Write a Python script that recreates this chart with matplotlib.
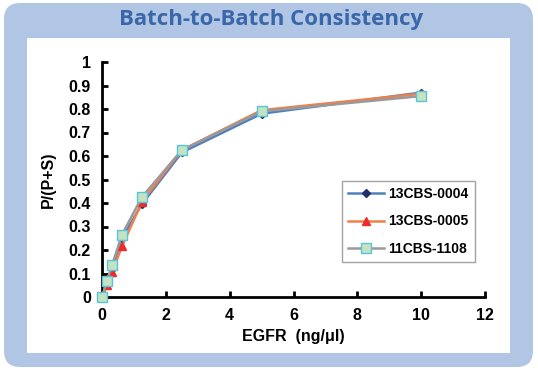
import matplotlib
matplotlib.use("Agg")
import matplotlib.pyplot as plt
from matplotlib.patches import FancyBboxPatch, Rectangle

# EGFR concentration (ng/ul)
egfr = [0, 0.156, 0.3125, 0.625, 1.25, 2.5, 5, 10]

# P/(P+S) per batch
lot_0004 = [0, 0.05, 0.12, 0.25, 0.395, 0.615, 0.78, 0.87]
lot_0005 = [0, 0.05, 0.105, 0.215, 0.405, 0.625, 0.795, 0.865]
lot_1108 = [0, 0.07, 0.135, 0.265, 0.425, 0.625, 0.79, 0.855]

labels = ["13CBS-0004", "13CBS-0005", "11CBS-1108"]
x_ticks = [0, 2, 4, 6, 8, 10, 12]
y_ticks = [0, 0.1, 0.2, 0.3, 0.4, 0.5, 0.6, 0.7, 0.8, 0.9, 1]

W, H = 538, 373
fig = plt.figure(figsize=(W / 100, H / 100), dpi=100)
fig.patch.set_facecolor("white")

# rounded light-blue frame and white panel
frame = FancyBboxPatch((4 / W, (H - 367) / H), 529 / W, 364 / H,
                       boxstyle="round,pad=0,rounding_size=0.03",
                       transform=fig.transFigure, facecolor="#b1c6e4",
                       edgecolor="none", mutation_aspect=W / H, zorder=-2)
fig.patches.append(frame)
panel = Rectangle((27 / W, (H - 353) / H), 483 / W, 315 / H,
                  transform=fig.transFigure, facecolor="white", edgecolor="none", zorder=-1)
fig.patches.append(panel)

fig.text(271 / W, 1 - 20 / H, "Batch-to-Batch Consistency", ha="center", va="center",
         fontsize=16, fontweight="bold", color="#3a67a9", family="Open Sans")

ax = fig.add_axes([102 / W, 1 - 297 / H, 383 / W, 235 / H])
ax.set_facecolor("none")
ax.set_zorder(2)

ax.plot(egfr, lot_0004, color="#4f81bd", lw=1.8, marker="D", ms=4.5,
        mfc="#1f2f6b", mec="#1f2f6b", label=labels[0], clip_on=False, zorder=3)
ax.plot(egfr, lot_0005, color="#f07f4a", lw=1.8, marker="^", ms=6,
        mfc="#ee2b2b", mec="#ee2b2b", label=labels[1], clip_on=False, zorder=4)
ax.plot(egfr, lot_1108, color="#9a9a9a", lw=1.8, marker="s", ms=6.5,
        mfc="#c4e3c0", mec="#59c3e0", mew=1.0, label=labels[2], clip_on=False, zorder=5)

ax.set_xlim(0, 12)
ax.set_ylim(0, 1)
ax.set_xticks(x_ticks)
ax.set_yticks(y_ticks)
ax.set_xticklabels([str(t) for t in x_ticks])
ax.set_yticklabels(["0", "0.1", "0.2", "0.3", "0.4", "0.5", "0.6", "0.7", "0.8", "0.9", "1"])

for s in ["top", "right"]:
    ax.spines[s].set_visible(False)
for s in ["left", "bottom"]:
    ax.spines[s].set_linewidth(2)
    ax.spines[s].set_color("black")
ax.tick_params(direction="in", width=2, length=4, pad=8)

for lab in ax.get_xticklabels() + ax.get_yticklabels():
    lab.set_fontfamily("Liberation Sans")
    lab.set_fontweight("bold")
    lab.set_fontsize(11.5)

ax.set_xlabel("EGFR  (ng/\u03bcl)", fontsize=11.5, fontweight="bold",
              family="Liberation Sans", labelpad=4)
ax.set_ylabel("P/(P+S)", fontsize=11.5, fontweight="bold",
              family="Liberation Sans", labelpad=9)

leg = ax.legend(loc="upper left", bbox_to_anchor=((342 - 102) / 383, (297 - 181) / 235),
                frameon=True, fancybox=False, handlelength=2.6, handletextpad=0.3,
                labelspacing=0.95, borderpad=0.45, borderaxespad=0,
                prop={"family": "Liberation Sans", "weight": "bold", "size": 10})
leg.get_frame().set_edgecolor("#8c8c8c")
leg.get_frame().set_linewidth(1)

fig.savefig("out.png", dpi=100)
